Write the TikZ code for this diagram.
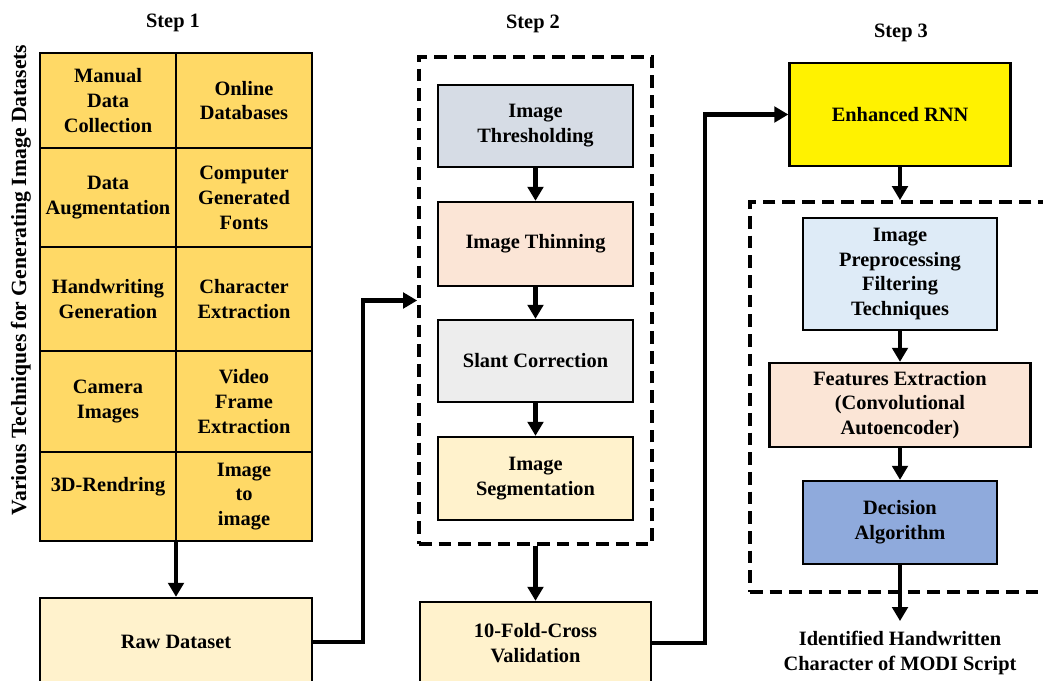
\documentclass[tikz,border=0pt]{standalone}
\usepackage{fontspec}
\setmainfont{Liberation Serif}
\usetikzlibrary{arrows.meta}

\definecolor{gridgold}{HTML}{FFD966}
\definecolor{paleyellow}{HTML}{FFF2CC}
\definecolor{slategrey}{HTML}{D6DCE5}
\definecolor{peach}{HTML}{FBE5D6}
\definecolor{lightgrey}{HTML}{EDEDED}
\definecolor{paleblue}{HTML}{DEEBF7}
\definecolor{midblue}{HTML}{8FAADC}

\tikzset{
	blk/.style 2 args={draw, align=center, inner sep=0pt, minimum width={#1*0.025cm}, minimum height={#2*0.025cm}},
	cell/.style 2 args={blk={#1}{#2}, line width=2pt, fill=gridgold},
	stepbox/.style 2 args={blk={#1}{#2}, line width=1.6pt},
	dashbox/.style 2 args={blk={#1}{#2}, line width=2.6pt, dash pattern=on 9pt off 5pt},
	arr/.style={line width=3.3pt, -{Triangle[length=10pt,width=11pt]}}
}

\begin{document}
\begin{tikzpicture}[x=0.025cm, y=-0.025cm, font=\fontsize{14.5}{17.7}\selectfont\bfseries]
				%%%%% START %%%%%
				\clip (0,0) rectangle (1043,681);
				
				\node (st1) at (173,23) {Step 1};
				\node (st2) at (533,24) {Step 2};
				\node (st3) at (901,33) {Step 3};
				\node[rotate=90, font=\fontsize{15.4}{18}\selectfont\bfseries] (side) at (21,280) {Various Techniques for Generating Image Datasets};
				
				% step 1
				\node[cell={136}{95}] (c11) at (108,100.5) {Manual\\Data\\Collection};
				\node[cell={136}{95}] (c12) at (244,100.5) {Online\\Databases};
				\node[cell={136}{99}] (c21) at (108,197.5) {Data\\Augmentation};
				\node[cell={136}{99}] (c22) at (244,197.5) {Computer\\Generated\\Fonts};
				\node[cell={136}{104}] (c31) at (108,299) {Handwriting\\Generation};
				\node[cell={136}{104}] (c32) at (244,299) {Character\\Extraction};
				\node[cell={136}{101}] (c41) at (108,401.5) {Camera\\Images};
				\node[cell={136}{101}] (c42) at (244,401.5) {Video\\Frame\\Extraction};
				\node[cell={136}{89}] (c51) at (108,496.5) {3D-Rendring\\[0pt]\mbox{}};
				\node[cell={136}{89}] (c52) at (244,496.5) {Image\\to\\image};
				
				\node[stepbox={272}{88}, fill=paleyellow] (raw) at (176,642) {Raw Dataset};
				
				% step 2
				\node[dashbox={233}{487}] (s2) at (535.5,300.5) {};
				\node[stepbox={195}{82}, fill=slategrey] (thr) at (535.5,126) {Image\\Thresholding};
				\node[stepbox={195}{84}, fill=peach] (thin) at (535.5,244) {Image Thinning};
				\node[stepbox={195}{82}, fill=lightgrey] (slant) at (535.5,361) {Slant Correction};
				\node[stepbox={195}{83}, fill=paleyellow] (seg) at (535.5,478.5) {Image\\Segmentation};
				
				\node[stepbox={231}{82}, fill=paleyellow] (fold) at (535.5,643) {10-Fold-Cross\\Validation};
				
				% step 3
				\node[stepbox={221}{103}, fill=yellow] (rnn) at (900,114.5) {Enhanced RNN};
				\node[dashbox={300}{390}] (s3) at (900,397) {};
				\node[stepbox={194}{112}, fill=paleblue] (pre) at (900,274) {Image\\Preprocessing\\Filtering\\Techniques};
				\node[stepbox={261}{84}, fill=peach] (feat) at (900,405) {Features Extraction\\(Convolutional\\Autoencoder)};
				\node[stepbox={194}{83}, fill=midblue] (dec) at (900,522.5) {Decision\\Algorithm};
				\node[align=center, inner sep=7pt] (out) at (900,653) {Identified Handwritten\\Character of MODI Script};
				
				% arrows
				\draw[arr] (raw.north |- c51.south) -- (raw.north);
				\draw[arr] (raw.east) -- ++(50,0) |- (s2.west);
				\draw[arr] (thr) -- (thin);
				\draw[arr] (thin) -- (slant);
				\draw[arr] (slant) -- (seg);
				\draw[arr] (s2.south) -- (fold.north);
				\draw[arr] (fold.east) -- ++(53,0) |- (rnn.west);
				\draw[arr] (rnn.south) -- (s3.north);
				\draw[arr] (pre) -- (feat);
				\draw[arr] (feat) -- (dec);
				\draw[arr] (dec.south) -- (out.north);
				%%%%% END %%%%%
\end{tikzpicture}
\end{document}
